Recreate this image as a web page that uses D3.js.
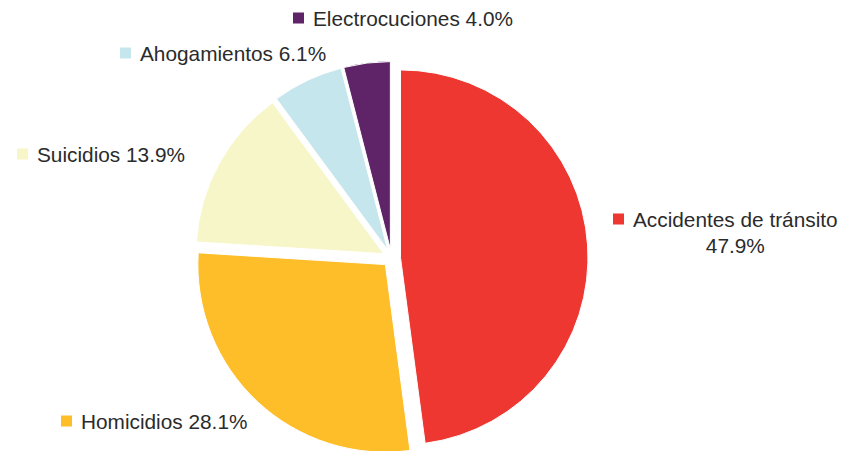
<!DOCTYPE html>
<html>
<head>
<meta charset="utf-8">
<script src="https://cdn.jsdelivr.net/npm/d3@7"></script>
<style>
  html, body { margin: 0; padding: 0; background: #fff; }
  svg { display: block; }
</style>
</head>
<body>
<svg id="chart" width="841" height="451"></svg>
<script>
// ---- data ----
const categories = ["Accidentes de tránsito", "Homicidios", "Suicidios", "Ahogamientos", "Electrocuciones"];
const values = [47.9, 28.1, 13.9, 6.1, 4.0];
const valueLabels = ["47.9%", "28.1%", "13.9%", "6.1%", "4.0%"];
const colors = ["#EE3730", "#FDBE2A", "#F7F6C8", "#C5E6EC", "#5E2467"];

// ---- layout ----
const W = 841, H = 451;
const cx = 391.5, cy = 258, R = 187.5, explode = 9;
const fontSize = 20.8;
// legend-label anchor (square left, text baseline), one per category
const labelPos = [
  { x: 613, y: 227, lines: 2 },
  { x: 61,  y: 429, lines: 1 },
  { x: 17,  y: 162, lines: 1 },
  { x: 120, y: 61,  lines: 1 },
  { x: 293, y: 26,  lines: 1 }
];

const svg = d3.select("#chart");
const data = categories.map((c, i) => ({ name: c, value: values[i], label: valueLabels[i], color: colors[i] }));

const pie = d3.pie().sort(null).value(d => d.value).startAngle(0).endAngle(2 * Math.PI);
const arc = d3.arc().innerRadius(0).outerRadius(R);
const arcs = pie(data);

const g = svg.append("g").attr("transform", `translate(${cx},${cy})`);
g.selectAll("path")
  .data(arcs)
  .join("path")
  .attr("d", arc)
  .attr("fill", d => d.data.color)
  .attr("stroke", "#fff")
  .attr("stroke-width", 1)
  .attr("transform", d => {
    const a = (d.startAngle + d.endAngle) / 2;
    return `translate(${explode * Math.sin(a)},${-explode * Math.cos(a)})`;
  });

// ---- labels ----
const lg = svg.append("g")
  .style("font-family", "'Liberation Sans', Arial, Helvetica, sans-serif")
  .style("font-size", fontSize + "px")
  .attr("fill", "#2B2B2B");

data.forEach((d, i) => {
  const p = labelPos[i];
  lg.append("rect")
    .attr("x", p.x).attr("y", p.y - 13.5)
    .attr("width", 11).attr("height", 11)
    .attr("fill", d.color);
  if (p.lines === 2) {
    const t = lg.append("text").attr("x", p.x + 20).attr("y", p.y).text(d.name);
    const w = t.node().getComputedTextLength();
    lg.append("text")
      .attr("x", p.x + 20 + w / 2).attr("y", p.y + 26)
      .attr("text-anchor", "middle")
      .text(d.label);
  } else {
    lg.append("text").attr("x", p.x + 20).attr("y", p.y).text(d.name + " " + d.label);
  }
});
</script>
</body>
</html>
